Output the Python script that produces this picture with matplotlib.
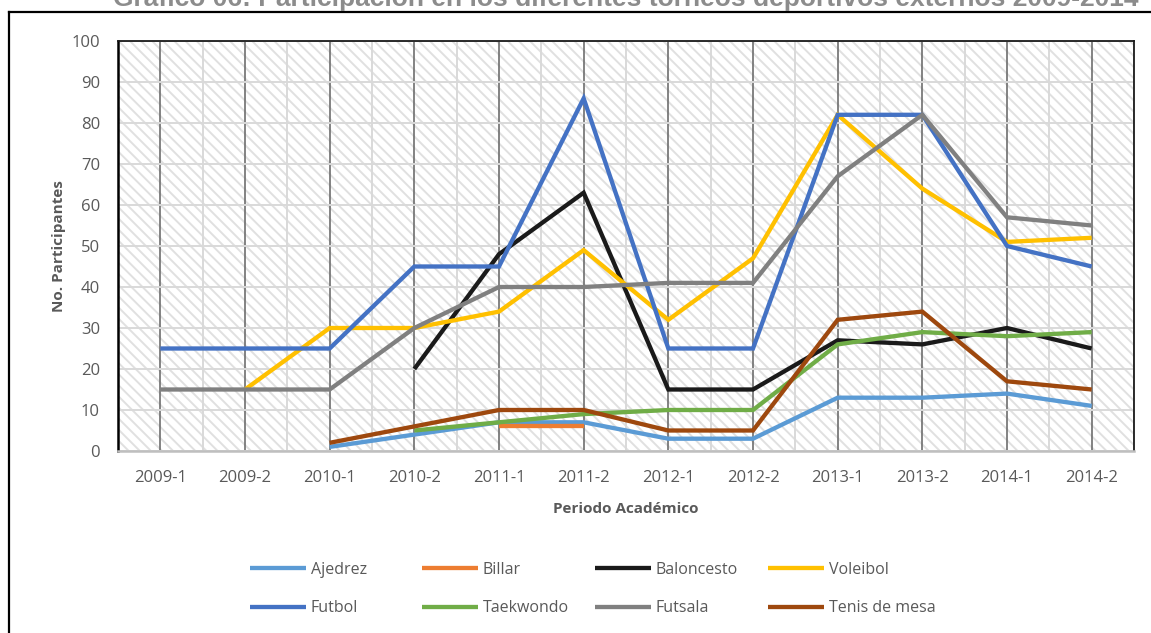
import matplotlib
matplotlib.use("Agg")
import matplotlib.pyplot as plt
from matplotlib.patches import Rectangle
from matplotlib.lines import Line2D
import numpy as np

plt.rcParams['font.family'] = ['Open Sans', 'DejaVu Sans']
plt.rcParams['hatch.linewidth'] = 1.4

# periodos y participantes por disciplina (None = sin participacion)
periodos = ["2009-1", "2009-2", "2010-1", "2010-2", "2011-1", "2011-2",
            "2012-1", "2012-2", "2013-1", "2013-2", "2014-1", "2014-2"]
ajedrez = [None, None, 1, 4, 7, 7, 3, 3, 13, 13, 14, 11]
billar = [None, None, None, None, 6, 6, None, None, None, None, None, None]
baloncesto = [None, None, None, 20, 48, 63, 15, 15, 27, 26, 30, 25]
voleibol = [None, 15, 30, 30, 34, 49, 32, 47, 82, 64, 51, 52]
futbol = [25, 25, 25, 45, 45, 86, 25, 25, 82, 82, 50, 45]
taekwondo = [None, None, None, 5, 7, 9, 10, 10, 26, 29, 28, 29]
futsala = [15, 15, 15, 30, 40, 40, 41, 41, 67, 82, 57, 55]
tenis_mesa = [None, None, 2, 6, 10, 10, 5, 5, 32, 34, 17, 15]

series = [
    ("Ajedrez", ajedrez, "#5B9BD5"),
    ("Billar", billar, "#ED7D31"),
    ("Baloncesto", baloncesto, "#1A1A1A"),
    ("Voleibol", voleibol, "#FFC000"),
    ("Futbol", futbol, "#4472C4"),
    ("Taekwondo", taekwondo, "#70AD47"),
    ("Futsala", futsala, "#808080"),
    ("Tenis de mesa", tenis_mesa, "#9E480E"),
]

fig = plt.figure(figsize=(11.51, 6.33), dpi=100)
ax = fig.add_axes([118 / 1151, 1 - 451 / 633, (1134 - 118) / 1151, (451 - 41) / 633])

x = np.arange(len(periodos))

# fondo rayado del area de trazado
ax.add_patch(Rectangle((0, 0), 1, 1, transform=ax.transAxes, facecolor="white",
                       edgecolor="#E0E0E0", hatch="\\\\\\", lw=0, zorder=0))

lineas = []
for nombre, valores, color in series:
    y = np.array([np.nan if v is None else v for v in valores], dtype=float)
    l, = ax.plot(x, y, color=color, lw=3.1, label=nombre, zorder=3,
                 solid_capstyle="butt", solid_joinstyle="miter")
    lineas.append(l)

ax.set_xlim(-0.5, len(periodos) - 0.5)
ax.set_ylim(0, 100)
ax.set_yticks(range(0, 101, 10))
ax.set_xticks(x)
ax.set_xticklabels(periodos)
ax.set_xticks(np.arange(-0.5, len(periodos), 1), minor=True)

# rejilla: horizontal y limites de categoria en gris claro, centros en gris oscuro
ax.grid(axis="y", which="major", color="#D9D9D9", lw=1.4, zorder=1)
ax.grid(axis="x", which="minor", color="#D9D9D9", lw=1.4, zorder=1)
ax.grid(axis="x", which="major", color="#6E6E6E", lw=1.2, zorder=2)
ax.set_axisbelow(True)

ax.tick_params(axis="both", which="both", length=0, labelsize=12, colors="#595959")
ax.tick_params(axis="x", pad=14)
ax.tick_params(axis="y", pad=13)

for lado in ["top", "right"]:
    ax.spines[lado].set_color("#1A1A1A")
    ax.spines[lado].set_linewidth(1.3)
ax.spines["left"].set_color("black")
ax.spines["left"].set_linewidth(1.8)
ax.spines["bottom"].set_color("#BFBFBF")
ax.spines["bottom"].set_linewidth(1.8)

ax.set_xlabel("Periodo Académico", fontsize=11, fontweight="bold", color="#595959", labelpad=11)
ax.set_ylabel("No. Participantes", fontsize=11, fontweight="bold", color="#595959", labelpad=4)

# leyenda: cuatro columnas de igual ancho, dos filas
col_x = [250, 422, 595, 768]
for j, xc in enumerate(col_x):
    idx = [j, j + 4]
    leg = fig.legend([lineas[i] for i in idx], [series[i][0] for i in idx],
                     loc="center left", bbox_to_anchor=(xc / 1151, 1 - 589 / 633),
                     frameon=False, fontsize=11.5, handlelength=3.5, handletextpad=0.3,
                     labelspacing=1.4, labelcolor="#595959", borderpad=0,
                     borderaxespad=0)

# marco exterior del grafico
fig.add_artist(Line2D([9 / 1151, 9 / 1151], [0, 1 - 12 / 633], color="black", lw=1.6))
fig.add_artist(Line2D([9 / 1151, 1], [1 - 12 / 633, 1 - 12 / 633], color="black", lw=1.6))

fig.text(113 / 1151, 1 - 6.3 / 633,
         "Gráfico 06: Participación en los diferentes torneos deportivos externos 2009-2014",
         fontsize=19, fontweight="bold", color="#8C8C8C", family="Liberation Sans",
         ha="left", va="baseline")

fig.savefig("out.png", dpi=100)
